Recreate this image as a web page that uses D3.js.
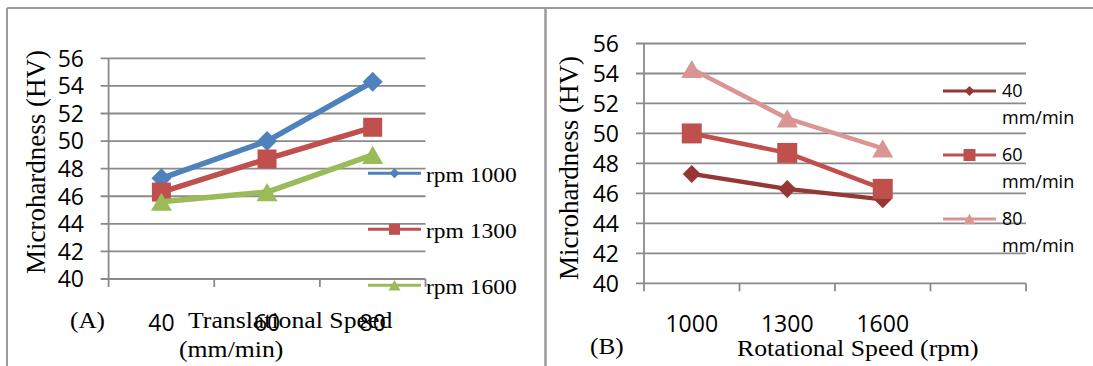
<!DOCTYPE html>
<html>
<head>
<meta charset="utf-8">
<script src="https://cdn.jsdelivr.net/npm/d3@7"></script>
<style>
body { margin: 0; background: #fff; }
svg { display: block; background: #fff; }
.serif { font-family: "Liberation Serif", "Times New Roman", serif; fill: #000; }
.sans { font-family: "Open Sans", sans-serif; fill: #000; }
</style>
</head>
<body>
<svg width="1093" height="366"></svg>
<script>
// categories and tick labels
var transSpeeds = ["40", "60", "80"];
var rpmSpeeds = ["1000", "1300", "1600", ""];   // last band is empty in (B)
var hvTicks = [40, 42, 44, 46, 48, 50, 52, 54, 56];

// (A) microhardness vs translational speed, one line per rotational speed
var rpmNames = ["rpm 1000", "rpm 1300", "rpm 1600"];
var rpm1000 = [47.3, 50.0, 54.3];
var rpm1300 = [46.3, 48.7, 51.0];
var rpm1600 = [45.6, 46.3, 49.0];

// (B) microhardness vs rotational speed, one line per translational speed
var feedNames = ["40", "60", "80"];
var feed40 = [47.3, 46.3, 45.6];
var feed60 = [50.0, 48.7, 46.3];
var feed80 = [54.3, 51.0, 49.0];

var svg = d3.select("svg");
var gridColor = "#8a8a8a";

// frame lines round the two panels
svg.append("line").attr("x1", 7).attr("x2", 1093).attr("y1", 8).attr("y2", 8)
    .attr("stroke", "#9a9a9a").attr("stroke-width", 2);
svg.append("line").attr("x1", 7).attr("x2", 7).attr("y1", 8).attr("y2", 366)
    .attr("stroke", "#9a9a9a").attr("stroke-width", 2);
svg.append("line").attr("x1", 545.5).attr("x2", 545.5).attr("y1", 8).attr("y2", 366)
    .attr("stroke", "#9a9a9a").attr("stroke-width", 2.5);

// serif text in the picture is a bit wider than Times
function stext(g, x, y, txt, size) {
    return g.append("text")
        .attr("class", "serif")
        .attr("font-size", size)
        .attr("transform", "translate(" + x + "," + y + ") scale(1.12,1)")
        .text(txt);
}

function marker(g, type, area, x, y, color) {
    var sym = type === "triangle" ? d3.symbolTriangle : d3.symbolSquare;
    var t;
    if (type === "triangle") {
        var r = Math.sqrt(area / (Math.sqrt(3) * 3));
        t = "translate(" + x + "," + (y + r / 2) + ")";
    } else if (type === "diamond") {
        t = "translate(" + x + "," + y + ") rotate(45)";
    } else {
        t = "translate(" + x + "," + y + ")";
    }
    g.append("path")
        .attr("d", d3.symbol(sym, area)())
        .attr("transform", t)
        .attr("fill", color);
}

function drawPanel(p) {
    var g = svg.append("g");
    var x = d3.scaleBand().domain(p.cats).range(p.xRange).padding(0);
    var y = d3.scaleLinear().domain([40, 56]).range(p.yRange);
    var x0 = p.xRange[0], x1 = p.xRange[1];

    // gridlines with small tick stubs to the left
    g.selectAll(".grid").data(hvTicks).enter().append("line")
        .attr("x1", x0 - 8).attr("x2", x1)
        .attr("y1", function (d) { return y(d); })
        .attr("y2", function (d) { return y(d); })
        .attr("stroke", gridColor).attr("stroke-width", 1.8);

    // y axis line
    g.append("line").attr("x1", x0).attr("x2", x0)
        .attr("y1", y(56)).attr("y2", y(40))
        .attr("stroke", gridColor).attr("stroke-width", 1.8);

    // x tick marks on band edges
    var edges = p.cats.map(function (c) { return x(c); }).concat([x1]);
    g.selectAll(".xt").data(edges).enter().append("line")
        .attr("x1", function (d) { return d; }).attr("x2", function (d) { return d; })
        .attr("y1", y(40)).attr("y2", y(40) + 8)
        .attr("stroke", gridColor).attr("stroke-width", 1.8);

    // y tick labels
    g.selectAll(".yl").data(hvTicks).enter().append("text")
        .attr("class", "sans")
        .attr("font-size", 23)
        .attr("text-anchor", "end")
        .attr("x", p.yLabelX)
        .attr("y", function (d) { return y(d); })
        .attr("dy", "0.36em")
        .text(function (d) { return d; });

    // x tick labels
    g.selectAll(".xl").data(p.cats).enter().append("text")
        .attr("class", "sans")
        .attr("font-size", 23)
        .attr("text-anchor", "middle")
        .attr("x", function (d) { return x(d) + x.bandwidth() / 2; })
        .attr("y", p.xLabelY)
        .text(function (d) { return d; });

    // y title
    g.append("text")
        .attr("class", "serif")
        .attr("font-size", 27)
        .attr("text-anchor", "middle")
        .attr("transform", "translate(" + p.yTitle[0] + "," + p.yTitle[1] + ") rotate(-90)")
        .text("Microhardness (HV)");

    var line = d3.line()
        .x(function (d, i) { return x(p.cats[i]) + x.bandwidth() / 2; })
        .y(function (d) { return y(d); });

    p.series.forEach(function (s) {
        g.append("path")
            .attr("d", line(s.values))
            .attr("fill", "none")
            .attr("stroke", s.color)
            .attr("stroke-width", p.lineWidth)
            .attr("stroke-linejoin", "round");
        s.values.forEach(function (v, i) {
            marker(g, s.symbol, s.size, x(p.cats[i]) + x.bandwidth() / 2, y(v), s.color);
        });
    });

    // legend
    p.series.forEach(function (s, i) {
        var ly = p.legend.y + i * p.legend.step;
        g.append("line")
            .attr("x1", p.legend.x).attr("x2", p.legend.x + 53)
            .attr("y1", ly).attr("y2", ly)
            .attr("stroke", s.color).attr("stroke-width", 3);
        marker(g, s.symbol, s.legendSize, p.legend.x + 26.5, ly, s.color);
    });
    return g;
}

var gA = drawPanel({
    cats: transSpeeds,
    xRange: [108.6, 425.5],
    yRange: [279, 58.3],
    yLabelX: 84,
    xLabelY: 331,
    yTitle: [45, 162],
    lineWidth: 5.5,
    legend: { x: 368, y: 173.3, step: 56 },
    series: [
        { name: rpmNames[0], values: rpm1000, color: "#4f81bd", symbol: "diamond", size: 200, legendSize: 50 },
        { name: rpmNames[1], values: rpm1300, color: "#c0504d", symbol: "square", size: 361, legendSize: 121 },
        { name: rpmNames[2], values: rpm1600, color: "#9bbb59", symbol: "triangle", size: 191, legendSize: 62 }
    ]
});
rpmNames.forEach(function (n, i) {
    stext(gA, 426, 182 + i * 56, n, 21);
});
stext(gA, 70, 328, "(A)", 22.5);
stext(gA, 188, 328, "Translational Speed", 23);
stext(gA, 179, 357, "(mm/min)", 23);

var gB = drawPanel({
    cats: rpmSpeeds,
    xRange: [644, 1026],
    yRange: [283.3, 43.5],
    yLabelX: 619,
    xLabelY: 332,
    yTitle: [578, 168],
    lineWidth: 4.5,
    legend: { x: 943, y: 91, step: 64 },
    series: [
        { name: feedNames[0], values: feed40, color: "#953735", symbol: "diamond", size: 162, legendSize: 50 },
        { name: feedNames[1], values: feed60, color: "#c0504d", symbol: "square", size: 400, legendSize: 144 },
        { name: feedNames[2], values: feed80, color: "#d99694", symbol: "triangle", size: 191, legendSize: 62 }
    ]
});
feedNames.forEach(function (n, i) {
    gB.append("text").attr("class", "sans").attr("font-size", 18)
        .attr("x", 1002).attr("y", 97 + i * 64).text(n);
    gB.append("text").attr("class", "sans").attr("font-size", 18)
        .attr("x", 1002).attr("y", 123.5 + i * 64).text("mm/min");
});
stext(gB, 590, 354, "(B)", 22.5);
stext(gB, 737, 356, "Rotational Speed (rpm)", 23);
</script>
</body>
</html>
